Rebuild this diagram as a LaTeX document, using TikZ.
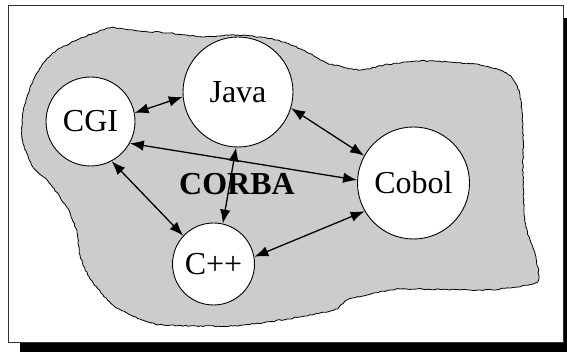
\documentclass[tikz,border=0pt]{standalone}
\usepackage{fontspec}
\setmainfont{Liberation Serif}
\usetikzlibrary{arrows.meta,decorations.pathmorphing}
\definecolor{cloudgray}{HTML}{CCCCCC}
\tikzset{
  comp/.style={circle, draw=black, line width=0.9pt, fill=white, inner sep=0pt,
    font=\fontsize{32}{36}\selectfont},
  link/.style={{Latex[length=14pt,width=10.5pt]}-{Latex[length=14pt,width=10.5pt]}, line width=1.3pt},
  cloud/.style={fill=cloudgray, draw=black, line width=0.8pt,
    decoration={random steps, segment length=2.5pt, amplitude=0.6pt}, decorate}
}
\begin{document}
\begin{tikzpicture}[x=1pt, y=-1pt]
\useasboundingbox (0,0) rectangle (567,352);
% page with drop shadow
\fill[black] (20,18) rectangle (575,360);
\draw[fill=white, draw=black!80, line width=1pt] (8,6) rectangle (563,342);
% the shared bus area
\pgfmathsetseed{7}
\draw[cloud] plot[smooth cycle, tension=0.4] coordinates {
  (22,120) (27,97) (37,73) (53,53) (77,40) (110,28) (140,31) (170,33) (203,37)
  (237,35) (277,40) (303,50) (327,63) (360,70) (384,65) (417,61) (450,62)
  (480,65) (500,70) (512,78) (520,95) (523,130) (523,180) (525,222)
  (530,240) (536,258) (537,282) (500,289) (470,290) (400,289) (367,295)
  (347,300) (334,310) (287,319) (233,326) (163,325) (140,319) (113,305)
  (90,279) (80,255) (77,233) (70,213) (60,197) (47,180) (33,167) (23,143)};
% components
\node[comp, minimum size=89pt]  (cgi)   at (90.5,121.5) {CGI};
\node[comp, minimum size=110pt] (java)  at (238,92)     {Java};
\node[comp, minimum size=112pt] (cobol) at (413.5,183)  {Cobol};
\node[comp, minimum size=82pt]  (cpp)   at (213.5,264)  {C++};
\node[font=\fontsize{32}{36}\selectfont\bfseries] (corba) at (237,184) {CORBA};
% connections
\draw[link] (cgi.11)   -- (java.185);
\draw[link] (cgi.-29)  -- (cobol.177);
\draw[link] (cgi.-62)  -- (cpp.137);
\draw[link] (java.-92) -- (cpp.77);
\draw[link] (java.-17) -- (cobol.151);
\draw[link] (cpp.10)   -- (cobol.210);
\end{tikzpicture}
\end{document}
